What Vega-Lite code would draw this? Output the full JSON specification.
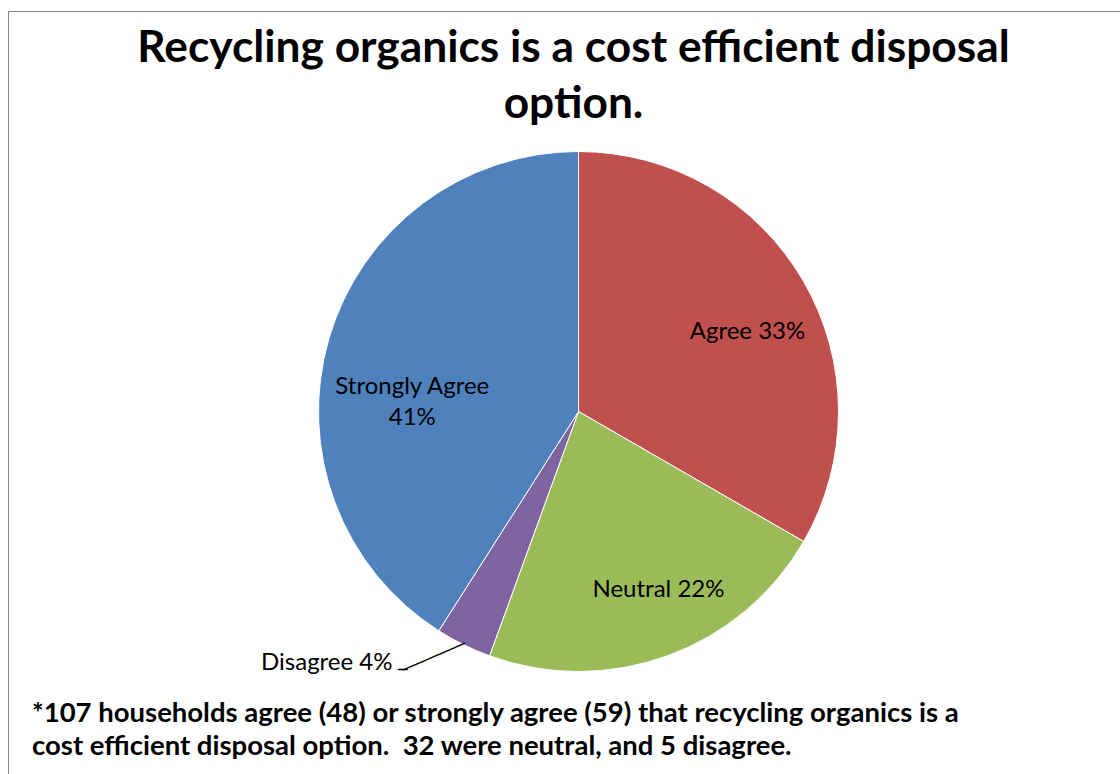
{
  "$schema": "https://vega.github.io/schema/vega-lite/v6.json",
  "background": "white",
  "padding": {"left": 7, "top": 10, "right": -29, "bottom": -38},
  "title": {
    "text": ["Recycling organics is a cost efficient disposal", "option."],
    "anchor": "middle",
    "font": "Lato",
    "fontSize": 44.3,
    "fontWeight": "bold",
    "color": "#000000",
    "lineHeight": 56,
    "offset": -117,
    "dx": -5
  },
  "vconcat": [
    {
      "width": 1141,
      "height": 801,
      "view": {"stroke": "#868686", "strokeWidth": 1, "fill": "white"},
      "title": {
        "text": [
          "*107 households agree (48) or strongly agree (59) that recycling organics is a",
          "cost efficient disposal option. \u00a032 were neutral, and 5 disagree."
        ],
        "orient": "bottom",
        "anchor": "start",
        "font": "Lato",
        "fontSize": 27.5,
        "fontWeight": "bold",
        "color": "#000000",
        "lineHeight": 33,
        "offset": -112,
        "dx": 24
      },
      "data": {
        "values": [
          {"cat": "Agree", "count": 48, "label": "Agree 33%"},
          {"cat": "Neutral", "count": 32, "label": "Neutral 22%"},
          {"cat": "Disagree", "count": 5, "label": "Disagree 4%"},
          {"cat": "Strongly Agree", "count": 59, "label": "Strongly Agree\n41%"}
        ]
      },
      "transform": [{"window": [{"op": "row_number", "as": "idx"}]}],
      "encoding": {
        "theta": {"field": "count", "type": "quantitative", "stack": true},
        "order": {"field": "idx", "type": "quantitative"}
      },
      "layer": [
        {
          "mark": {"type": "arc", "outerRadius": 260, "stroke": "white", "strokeWidth": 1},
          "encoding": {
            "color": {
              "field": "cat",
              "type": "nominal",
              "scale": {
                "domain": ["Agree", "Neutral", "Disagree", "Strongly Agree"],
                "range": ["#C0504D", "#9BBB59", "#8064A2", "#4F81BD"]
              },
              "legend": null
            }
          }
        },
        {
          "mark": {"type": "text", "font": "Lato", "fontSize": 24, "color": "#000000", "align": "center", "baseline": "middle", "dx": 7, "dy": 14},
          "encoding": {
            "radius": {"value": 187},
            "text": {"condition": {"test": "datum.cat === 'Agree'", "field": "label"}, "value": ""}
          }
        },
        {
          "mark": {"type": "text", "font": "Lato", "fontSize": 24, "color": "#000000", "align": "center", "baseline": "middle", "dx": 15, "dy": 0},
          "encoding": {
            "radius": {"value": 190},
            "text": {"condition": {"test": "datum.cat === 'Neutral'", "field": "label"}, "value": ""}
          }
        },
        {
          "mark": {"type": "text", "font": "Lato", "fontSize": 24, "color": "#000000", "align": "center", "baseline": "middle", "lineBreak": "\n", "lineHeight": 31, "dx": -3, "dy": 23},
          "encoding": {
            "radius": {"value": 170},
            "text": {"condition": {"test": "datum.cat === 'Strongly Agree'", "field": "label"}, "value": ""}
          }
        },
        {
          "mark": {"type": "text", "font": "Lato", "fontSize": 24, "color": "#000000", "align": "right", "baseline": "middle", "dx": -71, "dy": 18},
          "encoding": {
            "radius": {"value": 260},
            "text": {"condition": {"test": "datum.cat === 'Disagree'", "value": "Disagree 4%"}, "value": ""}
          }
        },
        {
          "mark": {"type": "text", "font": "DejaVu Sans", "fontSize": 16, "color": "#000000", "align": "left", "baseline": "middle", "angle": 156.5},
          "encoding": {
            "radius": {"value": 258},
            "text": {"condition": {"test": "datum.cat === 'Disagree'", "value": "───────"}, "value": ""}
          }
        },
        {
          "mark": {"type": "text", "font": "DejaVu Sans", "fontSize": 16, "color": "#000000", "align": "right", "baseline": "middle", "dx": -57, "dy": 27},
          "encoding": {
            "radius": {"value": 258},
            "text": {"condition": {"test": "datum.cat === 'Disagree'", "value": "─"}, "value": ""}
          }
        }
      ]
    }
  ],
  "config": {
    "view": {"stroke": "#868686", "strokeWidth": 1}
  }
}
